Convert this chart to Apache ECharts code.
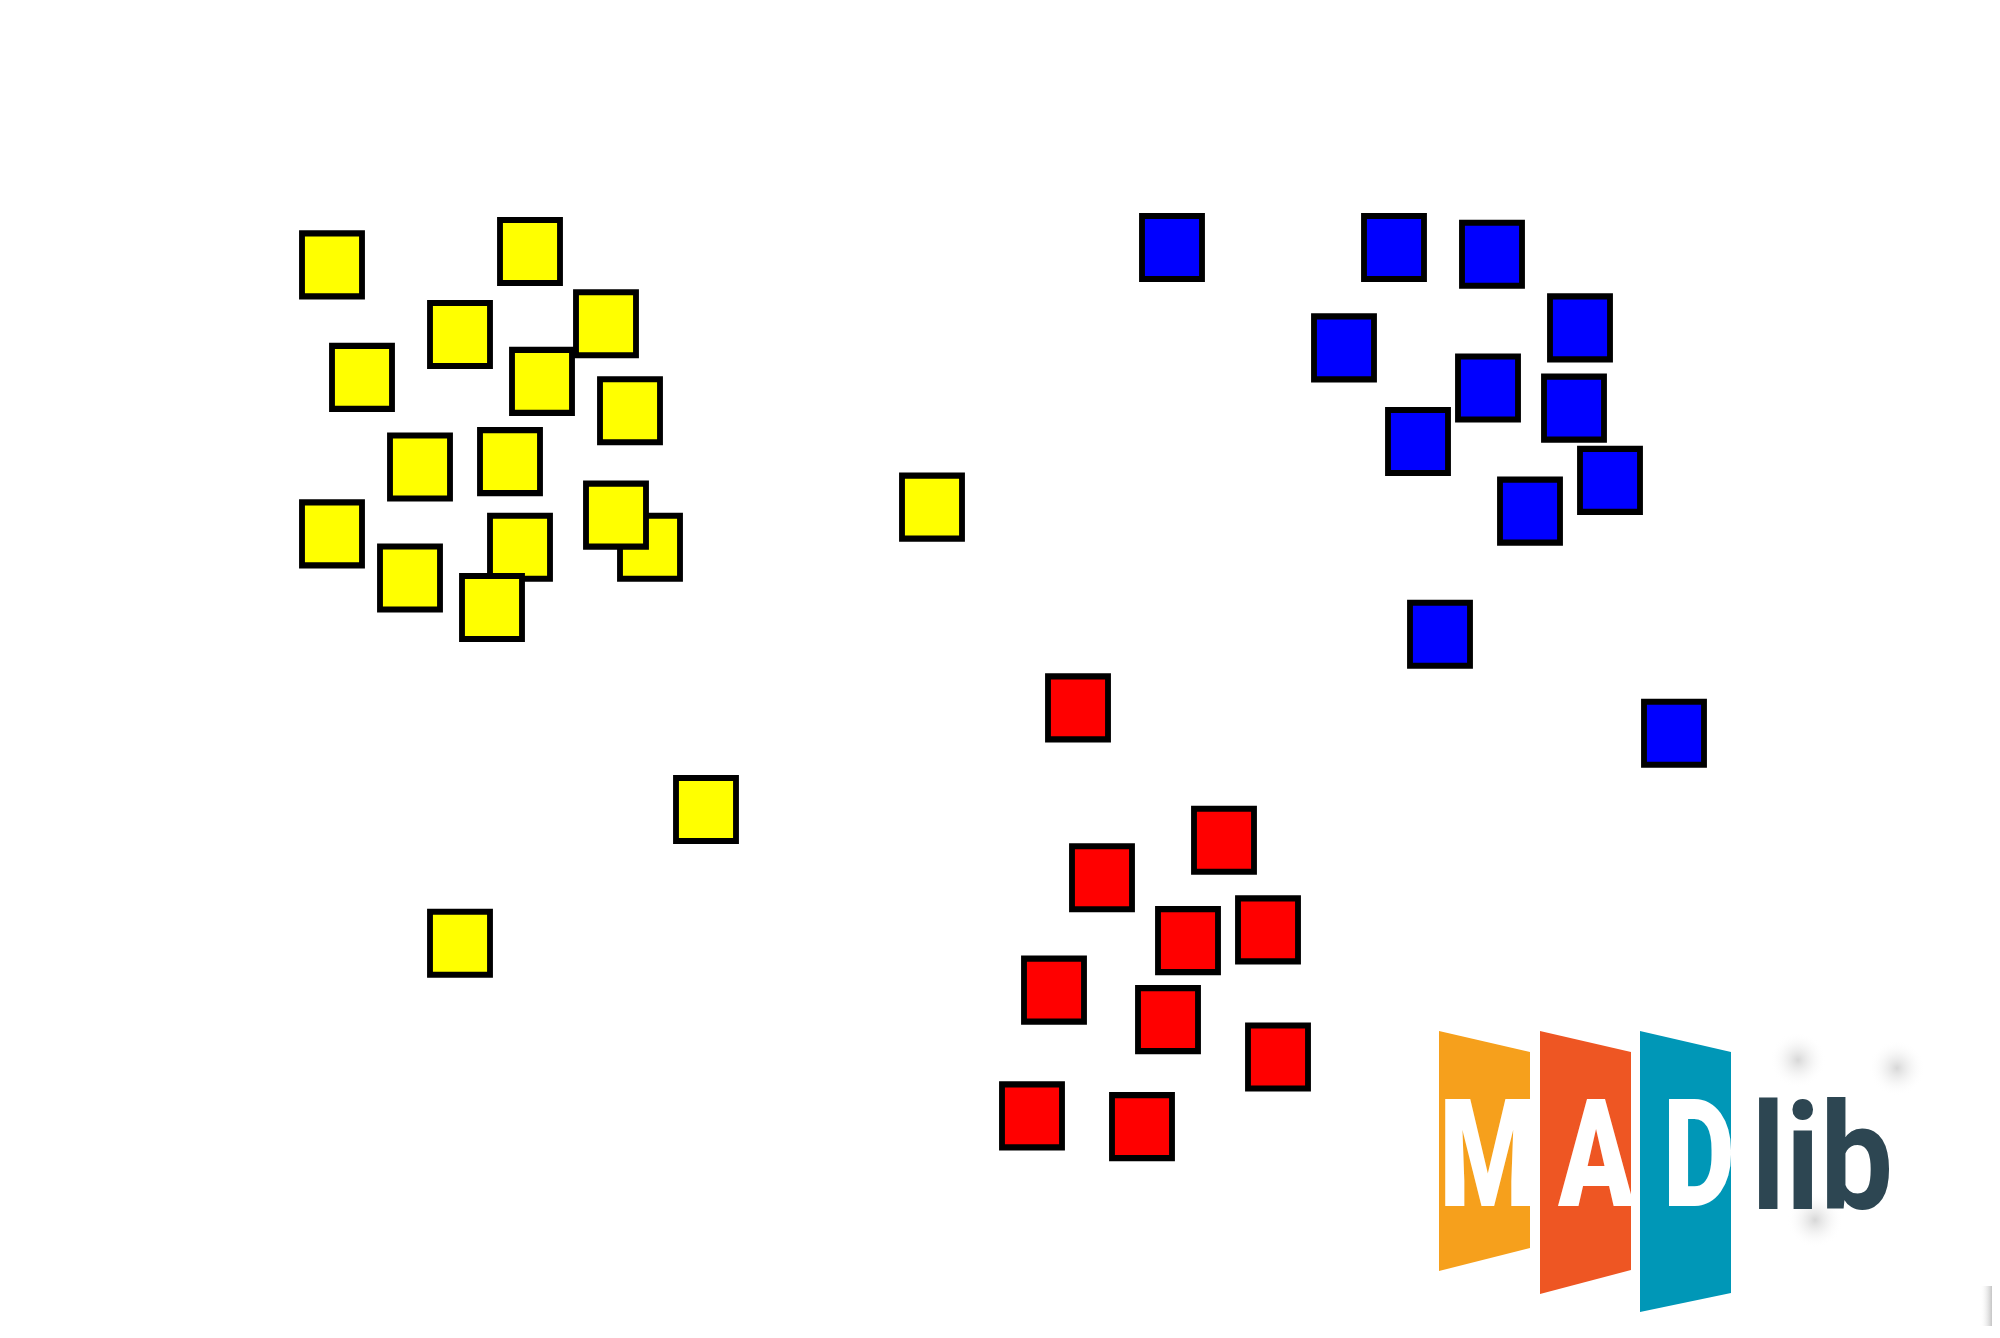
<!DOCTYPE html>
<html>
<head>
<meta charset="utf-8">
<script src="https://cdn.jsdelivr.net/npm/echarts@6/dist/echarts.min.js"></script>
<style>
html,body{margin:0;padding:0;background:#fff;}
#chart{width:2000px;height:1338px;}
</style>
</head>
<body>
<div id="chart"></div>
<script>
// Cluster data (x, y in data units 0-100)
const yellowX = [16.6, 26.5, 23.0, 30.3, 18.1, 27.1, 31.5, 21.0, 25.5, 16.6, 32.5, 30.8, 26.0, 20.5, 24.6, 46.6, 35.3, 23.0];
const yellowY = [80.2, 81.2, 75.0, 75.8, 71.8, 71.5, 69.3, 65.1, 65.5, 60.1, 59.1, 61.5, 59.1, 56.8, 54.6, 62.1, 39.5, 29.5];
const blueX = [58.6, 69.7, 74.6, 79.0, 67.2, 74.4, 78.7, 70.9, 80.5, 76.5, 72.0, 83.7];
const blueY = [81.5, 81.5, 81.0, 75.5, 74.0, 71.0, 69.5, 67.0, 64.1, 61.8, 52.6, 45.2];
const redX = [53.9, 61.2, 55.1, 59.4, 63.4, 52.7, 58.4, 63.9, 51.6, 57.1];
const redY = [47.1, 37.2, 34.4, 29.7, 30.5, 26.0, 23.8, 21.0, 16.6, 15.8];
const logoLetters = ['M', 'A', 'D'];
const logoWord = 'lib';

function pairs(xs, ys) { return xs.map((x, i) => [x, ys[i]]); }

const chart = echarts.init(document.getElementById('chart'), null, {renderer: 'canvas'});

function mkSeries(name, data, color) {
  return {
    name: name,
    type: 'scatter',
    data: data,
    symbol: 'rect',
    symbolSize: [60, 63],
    itemStyle: {color: color, borderColor: '#000', borderWidth: 6, opacity: 1},
    emphasis: {disabled: true},
    silent: true
  };
}

const panelColors = ['#F6A01C', '#EE5623', '#0097B7'];
const panels = [
  [[1439,1031],[1530,1052],[1530,1248],[1439,1271]],
  [[1540,1031],[1631,1052],[1631,1270],[1540,1294]],
  [[1640,1031],[1731,1052],[1731,1293],[1640,1312]]
];
const letterCx = [1488, 1596, 1699];

const graphics = [];
panels.forEach((pts, i) => {
  graphics.push({type: 'polygon', shape: {points: pts}, style: {fill: panelColors[i]}, z: 10, silent: true});
});
logoLetters.forEach((ch, i) => {
  graphics.push({
    type: 'text', x: letterCx[i], y: 1168, scaleX: 0.74, z: 11, silent: true,
    style: {text: ch, x: 0, y: 0, fill: '#fff', font: '900 150px Roboto', textAlign: 'center', textVerticalAlign: 'middle'}
  });
});
graphics.push({
  type: 'text', x: 1751, y: 1172, scaleX: 0.88, z: 11, silent: true,
  style: {text: logoWord, x: 0, y: 0, fill: '#2D4652', font: 'bold 148px Roboto', textAlign: 'left', textVerticalAlign: 'middle'}
});
// faint blurred specks around logo
[[1798,1060],[1897,1068],[1815,1220]].forEach(p => {
  graphics.push({
    type: 'circle', shape: {cx: p[0], cy: p[1], r: 28}, z: 9, silent: true,
    style: {fill: {type: 'radial', x: 0.5, y: 0.5, r: 0.5, colorStops: [{offset: 0, color: 'rgba(205,205,205,0.8)'}, {offset: 0.4, color: 'rgba(225,225,225,0.5)'}, {offset: 1, color: 'rgba(255,255,255,0)'}]}}
  });
});
graphics.push({
  type: 'rect', shape: {x: 1980, y: 1286, width: 12, height: 40}, z: 9, silent: true,
  style: {fill: {type: 'linear', x: 0, y: 0, x2: 1, y2: 0, colorStops: [{offset: 0, color: 'rgba(255,255,255,0)'}, {offset: 1, color: 'rgba(190,190,190,0.9)'}]}}
});

chart.setOption({
  animation: false,
  backgroundColor: '#ffffff',
  grid: {left: 0, right: 0, top: 0, bottom: 0, containLabel: false},
  xAxis: {type: 'value', min: 0, max: 100, show: false},
  yAxis: {type: 'value', min: 0, max: 100, show: false},
  series: [
    mkSeries('yellow', pairs(yellowX, yellowY), '#FFFF00'),
    mkSeries('blue', pairs(blueX, blueY), '#0000FF'),
    mkSeries('red', pairs(redX, redY), '#FF0000')
  ],
  graphic: graphics
});
</script>
</body>
</html>
